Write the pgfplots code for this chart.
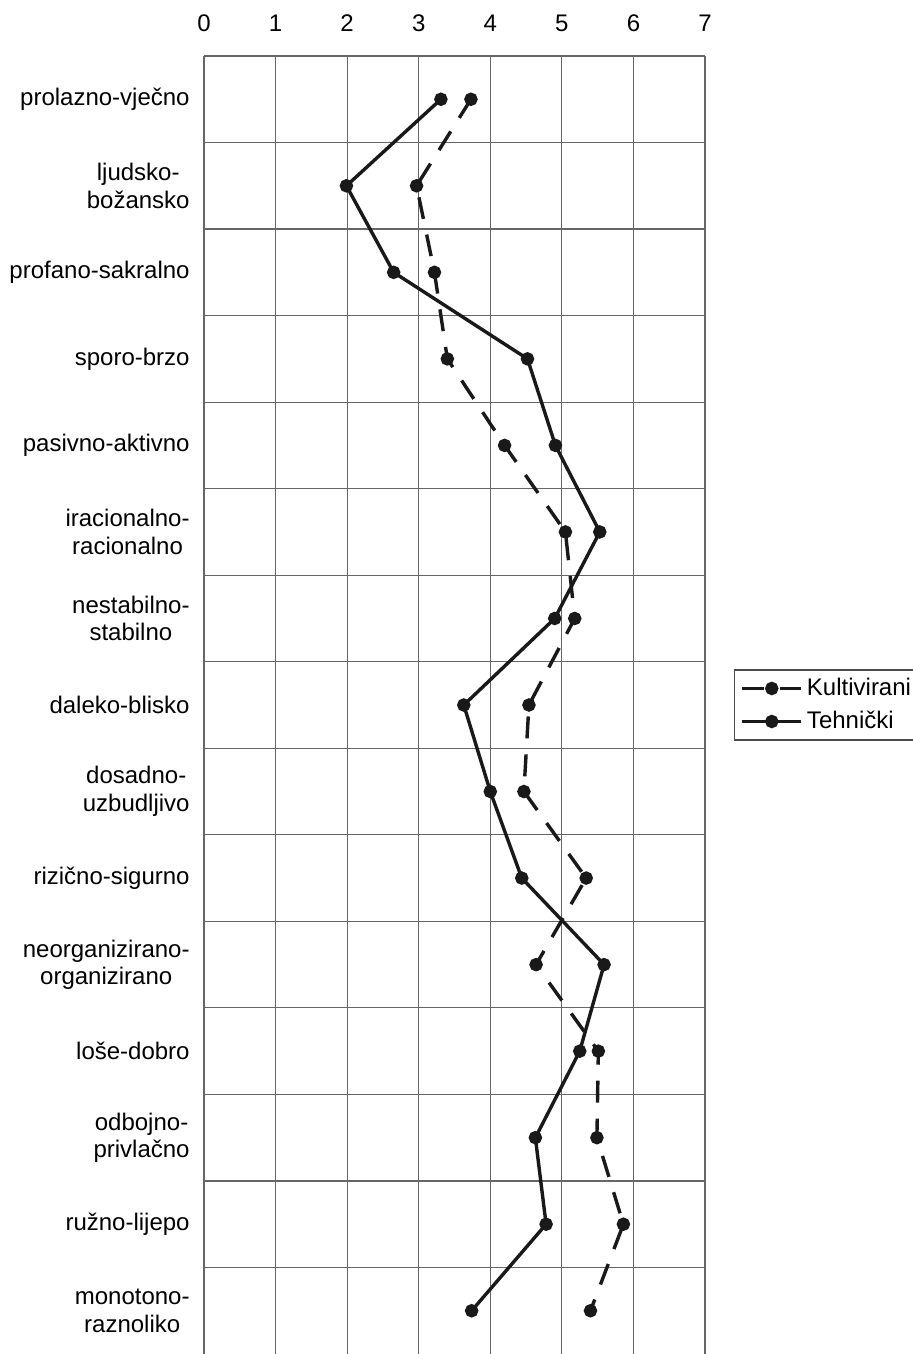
\documentclass[border=0pt]{standalone}
\usepackage{fontspec}
\setmainfont{Liberation Sans}
\usepackage{pgfplots}
\pgfplotsset{compat=1.18}
\begin{document}
\fontsize{12}{14.4}\selectfont
\begin{tikzpicture}
\begin{axis}[
 name=ax,
 width=250.5pt, height=649pt, scale only axis,
 xmin=0, xmax=7, ymin=0.5, ymax=15.5, y dir=reverse,
 xtick={0,...,7}, xticklabel pos=upper,
 ytick={1,...,15},
 yticklabels={prolazno-vječno, {ljudsko-\\božansko}, profano-sakralno, sporo-brzo, pasivno-aktivno, {iracionalno-\\racionalno}, {nestabilno-\\stabilno}, daleko-blisko, {dosadno-\\uzbudljivo}, rizično-sigurno, {neorganizirano-\\organizirano}, loše-dobro, {odbojno-\\privlačno}, ružno-lijepo, {monotono-\\raznoliko}},
 minor ytick={0.5,1.5,...,14.5},
 xmajorgrids, yminorgrids,
 major tick length=0pt, minor tick length=0pt,
 axis line style={draw=none},
 grid style={black!60, line width=0.6pt},
 minor grid style={black!60, line width=0.6pt},
 tick label style={font=\fontsize{12}{13.8}\selectfont},
 yticklabel style={align=center, xshift=-3pt},
 xticklabel style={yshift=8pt},
 /pgf/number format/assume math mode=true,
 legend style={at={(1,0.5)}, anchor=west, xshift=14.5pt, draw=black!70, line width=0.6pt, font=\fontsize{12}{14}\selectfont, inner xsep=3pt, inner ysep=2pt, row sep=2pt},
 legend cell align=left,
 legend image code/.code={\draw[#1, mark=none] (0pt,0pt) -- (29.5pt,0pt); \draw[#1, only marks] plot coordinates {(14.75pt,0pt)};},
 clip=false,
]
\addplot[black!90, line width=1.7pt, dash pattern=on 11pt off 8pt, mark=*, mark size=2.5pt, mark options={solid}]
 coordinates {(3.73,1) (2.97,2) (3.22,3) (3.40,4) (4.20,5) (5.05,6) (5.18,7) (4.54,8) (4.47,9) (5.34,10) (4.64,11) (5.51,12) (5.49,13) (5.86,14) (5.40,15)};
\addlegendentry{Kultivirani}
\addplot[black!90, line width=1.7pt, mark=*, mark size=2.5pt]
 coordinates {(3.31,1) (1.99,2) (2.65,3) (4.52,4) (4.91,5) (5.53,6) (4.90,7) (3.63,8) (4.00,9) (4.44,10) (5.59,11) (5.25,12) (4.63,13) (4.78,14) (3.74,15)};
\addlegendentry{Tehnički}
\end{axis}
\pgfresetboundingbox
\useasboundingbox ([xshift=-102pt]ax.south west) rectangle ([xshift=104pt,yshift=28pt]ax.north east);
\end{tikzpicture}
\end{document}
